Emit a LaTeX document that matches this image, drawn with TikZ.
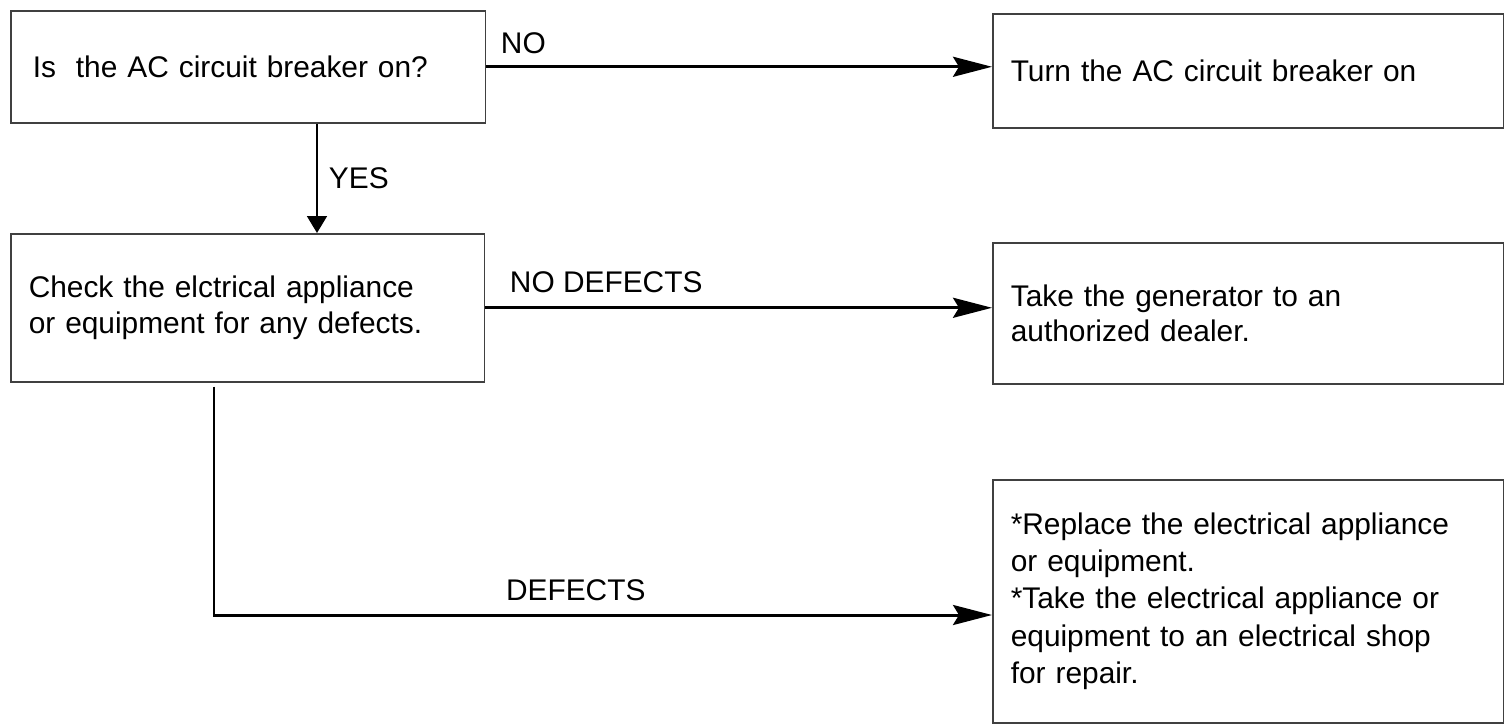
\documentclass[tikz,border=0pt]{standalone}
\usepackage{fontspec}
\setmainfont{Liberation Sans}
\usetikzlibrary{positioning, arrows.meta}

\begin{document}
\begin{tikzpicture}[x=0.02cm, y=-0.02cm,
    box/.style={draw=black!75, line width=0.9pt, anchor=north west, align=left,
      inner xsep=0.36cm, font=\fontsize{17}{20}\selectfont},
    lbl/.style={inner sep=0pt, font=\fontsize{17}{20}\selectfont},
    flow/.style={line width=1.7pt, -{Stealth[length=0.78cm, width=0.4cm, inset=0.12cm]}},
    yesflow/.style={line width=1.1pt, -{Triangle[length=0.34cm, width=0.4cm]}},
  ]
    \useasboundingbox (0,0) rectangle (1509,724);

    % Boxes
    \node[box, text width=8.62cm, inner xsep=0.44cm, minimum height=2.24cm] (breaker) at (10,10)
      {Is~ the AC circuit breaker on?};
    \node[box, text width=9.5cm, minimum height=2.28cm] (turnon) at (992,13)
      {Turn the AC circuit breaker on};
    \node[box, text width=8.76cm, minimum height=2.96cm] (check) at (10,233)
      {Check the elctrical appliance\\or equipment for any defects.};
    \node[box, text width=9.5cm, minimum height=2.82cm] (dealer) at (992,242)
      {Take the generator to an\\authorized dealer.};
    \node[box, text width=9.5cm, minimum height=4.86cm, font=\fontsize{17}{21.3}\selectfont] (repair) at (992,479)
      {*Replace the electrical appliance\\or equipment.\\{}*Take the electrical appliance or\\
       equipment to an electrical shop\\for repair.};

    % Connectors
    \coordinate (yesx) at (317,0);
    \coordinate (defturn) at (214,615);

    \draw[flow] (breaker.east) -- node[lbl, pos=0, above right=0.24cm and 0.26cm] {NO}
      (breaker.east -| turnon.west);
    \draw[yesflow] (breaker.south -| yesx) -- node[lbl, midway, right=0.22cm] {YES}
      (check.north -| yesx);
    \draw[flow] (check.east) -- node[lbl, pos=0, above right=0.28cm and 0.46cm] {NO DEFECTS}
      (check.east -| dealer.west);
    \draw[flow, shorten <=0.08cm] (check.south -| defturn) -- (defturn)
      -- node[lbl, pos=0.465, above=0.25cm] {DEFECTS} (defturn -| repair.west);
\end{tikzpicture}
\end{document}
